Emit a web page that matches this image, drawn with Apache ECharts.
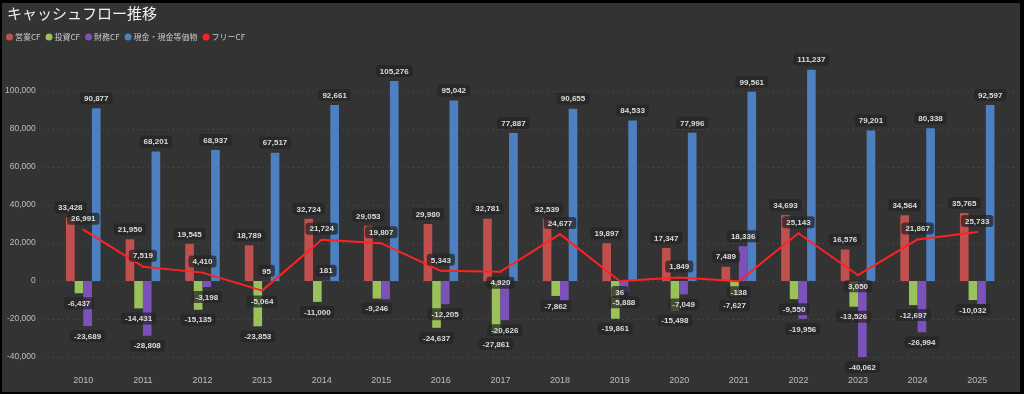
<!DOCTYPE html>
<html><head><meta charset="utf-8">
<script src="https://cdn.jsdelivr.net/npm/echarts@6/dist/echarts.min.js"></script>
<style>
html,body{margin:0;padding:0;background:#000;width:1024px;height:394px;overflow:hidden}
#c{position:absolute;left:2px;top:3px;width:1018px;height:389px}
</style>
</head><body><div id="c"></div>
<script>
// ---- data ----
const years = ['2010','2011','2012','2013','2014','2015','2016','2017','2018','2019','2020','2021','2022','2023','2024','2025'];
const operatingCF = [33428, 21950, 19545, 18789, 32724, 29053, 29980, 32781, 32539, 19897, 17347, 7489, 34693, 16576, 34564, 35765];
const investingCF = [-6437, -14431, -15135, -23853, -11000, -9246, -24637, -27861, -7862, -19861, -15498, -7627, -9550, -13526, -12697, -10032];
const financingCF = [-23689, -28808, -3198, 95, 181, -9650, -12205, -20626, -10500, -5888, -7049, 18336, -19956, -40062, -26994, -12300];
const cashEquiv = [90877, 68201, 68937, 67517, 92661, 105276, 95042, 77887, 90655, 84533, 77996, 99561, 111237, 79201, 80338, 92597];
const freeCF = [26991, 7519, 4410, -5064, 21724, 19807, 5343, 4920, 24677, 36, 1849, -138, 25143, 3050, 21867, 25733];
const yTicks = [-40000, -20000, 0, 20000, 40000, 60000, 80000, 100000];
const seriesNames = ['営業CF', '投資CF', '財務CF', '現金・現金等価物', 'フリーCF'];

// ---- style-only helpers ----
const hiddenFinLabels = ['2015', '2018', '2025'];
const fcfLabelSide = ['top','top','top','bottom','top','top','top','bottom','top','bottom','top','bottom','top','bottom','top','top'];
const colors = ['#c0504d', '#9bc25a', '#7b52b9', '#4d80c0', '#ff2222'];
const NARROW = "'Liberation Sans Narrow','Liberation Sans',Arial,sans-serif";
const fmt = v => Number(v).toLocaleString('en-US');

const labelBase = {
  show: true, color: '#dcdcdc', fontSize: 8, fontWeight: 'bold', fontFamily: NARROW,
  backgroundColor: 'rgba(38,38,38,0.75)', borderRadius: 3, padding: [2, 4, 1, 4], lineHeight: 9,
  distance: 4, formatter: p => fmt(p.value)
};

function barSeries(idx, values, hidden) {
  return {
    name: seriesNames[idx], type: 'bar', xAxisIndex: 1, yAxisIndex: 1,
    barGap: '0%', barCategoryGap: '42%',
    itemStyle: { color: colors[idx] },
    label: labelBase,
    data: values.map((v, i) => ({
      value: v,
      label: { position: v >= 0 ? 'top' : 'bottom', show: !(hidden && hidden.includes(years[i])) }
    }))
  };
}

const chart = echarts.init(document.getElementById('c'));
chart.setOption({
  backgroundColor: '#333333',
  animation: false,
  title: {
    text: 'キャッシュフロー推移', left: 5, top: 3, padding: 0,
    textStyle: { color: '#f0f0f0', fontSize: 15, fontWeight: 'normal', fontFamily: "'Noto Sans CJK JP',sans-serif" }
  },
  legend: {
    left: 4, top: 30, padding: 0, itemGap: 5, itemWidth: 7, itemHeight: 7,
    icon: 'circle',
    data: seriesNames,
    textStyle: {
      color: '#c8c8c8', fontSize: 8, padding: [0, 0, 0, -3],
      fontFamily: "'Noto Sans CJK JP',sans-serif"
    }
  },
  grid: [
    { left: 39, right: 2, top: 50, bottom: 35 },
    { left: 51.5, right: 13, top: 50, bottom: 35 }
  ],
  xAxis: [
    { type: 'category', gridIndex: 0, data: years, show: false },
    {
      type: 'category', gridIndex: 1, data: years,
      axisLine: { show: false }, axisTick: { show: false },
      axisLabel: { color: '#bdbdbd', fontSize: 9, fontFamily: NARROW, margin: 19 }
    }
  ],
  yAxis: [
    {
      type: 'value', gridIndex: 0, min: -40000, max: 120000, interval: 20000,
      axisLine: { show: false }, axisTick: { show: false },
      axisLabel: {
        color: '#bdbdbd', fontSize: 8.5, fontFamily: NARROW, margin: 7, showMaxLabel: false,
        formatter: v => yTicks.includes(v) ? fmt(v) : ''
      },
      splitLine: { showMaxLine: false, lineStyle: { color: '#555555', type: [1, 4], width: 1 } }
    },
    {
      type: 'value', gridIndex: 1, min: -40000, max: 120000, interval: 20000, show: false,
      splitLine: { show: false }
    }
  ],
  series: [
    barSeries(0, operatingCF),
    barSeries(1, investingCF),
    barSeries(2, financingCF, hiddenFinLabels),
    barSeries(3, cashEquiv),
    {
      name: seriesNames[4], type: 'line', xAxisIndex: 1, yAxisIndex: 1,
      symbol: 'circle', symbolSize: 2, showSymbol: true, z: 5,
      lineStyle: { color: colors[4], width: 2 },
      itemStyle: { color: colors[4] },
      label: labelBase,
      data: freeCF.map((v, i) => ({ value: v, label: { position: fcfLabelSide[i] } }))
    }
  ]
});
</script>
</body></html>
